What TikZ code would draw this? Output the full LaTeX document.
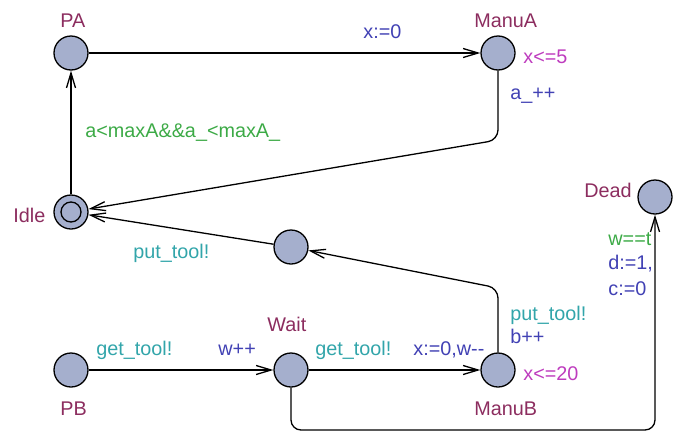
\documentclass[tikz,border=0pt]{standalone}
\usepackage{fontspec}
\setmainfont{Liberation Sans}
\usepackage{xcolor}
\usepackage{tikz}
\usetikzlibrary{arrows.meta}
\definecolor{locfill}{RGB}{165,175,205}
\definecolor{locname}{RGB}{140,45,95}
\definecolor{guardc}{RGB}{60,170,70}
\definecolor{syncc}{RGB}{50,165,170}
\definecolor{updc}{RGB}{65,65,180}
\definecolor{invc}{RGB}{190,60,190}
\tikzstyle{loc} = [circle, minimum size=17pt, inner sep=0pt, fill=locfill, draw=black, line width=0.65pt]
\tikzstyle{edge} = [line width=0.65pt, -{Straight Barb[length=7.5pt, width=4.5pt]}, rounded corners=5pt]
\tikzstyle{txt} = [anchor=base west, inner sep=0pt, font=\fontsize{9.9pt}{11pt}\selectfont]
\tikzstyle{lname} = [txt, text=locname]
\tikzstyle{guard} = [txt, text=guardc]
\tikzstyle{sync} = [txt, text=syncc]
\tikzstyle{upd} = [txt, text=updc]
\tikzstyle{inv} = [txt, text=invc]

\begin{document}
\begin{tikzpicture}[x=0.5pt, y=-0.5pt]
		\useasboundingbox (0,0) rectangle (675,434);
		% locations
		\node (PA)[loc] at (71,53) {};
		\node (ManuA)[loc] at (498,53) {};
		\node (Idle)[loc] at (71,212) {};
		\draw[line width=0.65pt] (Idle.center) circle[radius=5pt];
		\node (Ret)[loc] at (291,247) {};
		\node (Dead)[loc] at (655,197) {};
		\node (PB)[loc] at (71,370) {};
		\node (Wait)[loc] at (291,370) {};
		\node (ManuB)[loc] at (498,370) {};
		% names and invariants
		\node (PA name)[lname] at (60,27) {PA};
		\node (ManuA name)[lname] at (474,27) {ManuA};
		\node (Idle name)[lname] at (13,222) {Idle};
		\node (Dead name)[lname] at (584,197) {Dead};
		\node (PB name)[lname] at (60,415) {PB};
		\node (Wait name)[lname] at (267,331) {Wait};
		\node (ManuB name)[lname] at (474,415) {ManuB};
		\node (ManuA inv)[inv] at (523,63) {x<=5};
		\node (ManuB inv)[inv] at (523,380) {x<=20};
		% bends
		\coordinate (bendA) at (498,140);
		\coordinate (bendB) at (498,288);
		\coordinate (bendW) at (291,430);
		\coordinate (bendD) at (655,430);
		% transitions
		\draw [edge] (PA) -- (ManuA);
		\draw [edge] (ManuA) -- (bendA) -- (Idle);
		\draw [edge] (Idle) -- (PA);
		\draw [edge] (ManuB) -- (bendB) -- (Ret);
		\draw [edge] (Ret) -- (Idle);
		\draw [edge] (PB) -- (Wait);
		\draw [edge] (Wait) -- (ManuB);
		\draw [edge] (Wait) -- (bendW) -- (bendD) -- (Dead);
		% labels
		\node (PA upd)[upd] at (363,38) {x:=0};
		\node (ManuA upd)[upd] at (510,99) {a\_++};
		\node (Idle guard)[guard] at (85,137) {a<maxA\&\&a\_<maxA\_};
		\node (Ret sync)[sync] at (133,258) {put\_tool!};
		\node (ManuB sync)[sync] at (510,320) {put\_tool!};
		\node (ManuB upd)[upd] at (510,343) {b++};
		\node (PB sync)[sync] at (96,355) {get\_tool!};
		\node (PB upd)[upd] at (218,355) {w++};
		\node (Wait sync)[sync] at (315,355) {get\_tool!};
		\node (Wait upd)[upd] at (413,355) {x:=0,w-{}-};
		\node (Dead guard)[guard] at (608,245) {w==t};
		\node (Dead upd1)[upd] at (608,269) {d:=1,};
		\node (Dead upd2)[upd] at (608,295) {c:=0};
	\end{tikzpicture}
\end{document}
